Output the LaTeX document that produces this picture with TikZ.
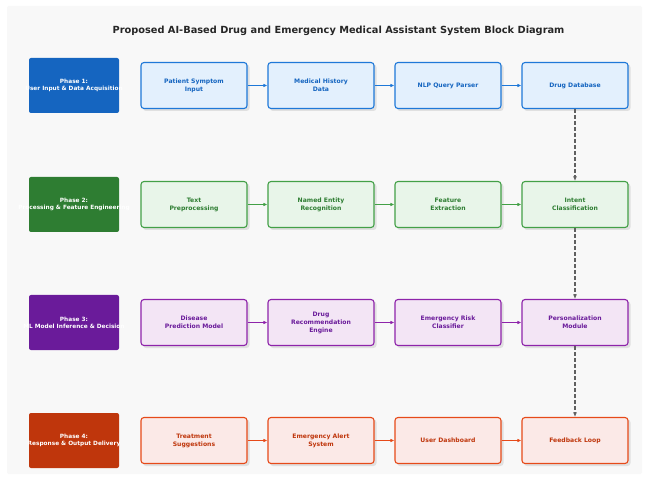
\documentclass[tikz,border=0pt]{standalone}
\usepackage{fontspec}
\setmainfont{DejaVu Sans}
\usetikzlibrary{arrows.meta,positioning}

% phase palettes: dark banner, soft fill, border, text
\definecolor{bgpanel}{HTML}{F8F8F8}
\definecolor{bluedark}{HTML}{1565C0}
\definecolor{bluefill}{HTML}{E3F0FD}
\definecolor{blueline}{HTML}{1E78D8}
\definecolor{greendark}{HTML}{2E7D32}
\definecolor{greenfill}{HTML}{E8F5E9}
\definecolor{greenline}{HTML}{43A047}
\definecolor{purpledark}{HTML}{6A1B9A}
\definecolor{purplefill}{HTML}{F3E5F5}
\definecolor{purpleline}{HTML}{8E24AA}
\definecolor{orangedark}{HTML}{BF360C}
\definecolor{orangefill}{HTML}{FBE9E7}
\definecolor{orangeline}{HTML}{E64A19}
\definecolor{linkgray}{HTML}{606060}

\tikzset{
  phasebox/.style={fill=#1, rounded corners=2pt, minimum width=90pt, minimum height=55pt,
    inner sep=0pt},
  phaselabel/.style={text=white, inner sep=0pt, font=\bfseries\fontsize{5.8}{7.2}\selectfont,
    align=center},
  stagebox/.style args={#1/#2/#3}{draw=#2, fill=#1, text=#3, line width=1.1pt,
    rounded corners=3pt, minimum width=106pt, minimum height=46pt, inner sep=0pt,
    font=\bfseries\fontsize{6.1}{8}\selectfont, align=center},
  stageshadow/.style={fill=black!12, rounded corners=3pt, draw=none},
  flow/.style={draw=#1, line width=0.9pt, -{Latex[length=4pt,width=3.5pt]}},
  handoff/.style={draw=linkgray, line width=1.3pt, dash pattern=on 4pt off 2pt,
    -{Latex[length=4.5pt,width=4pt]}},
}

\begin{document}
\begin{tikzpicture}[x=1pt,y=-1pt]
  \useasboundingbox (0,0) rectangle (645,478);
  \fill[white] (0,0) rectangle (645,478);
  \fill[bgpanel, rounded corners=2pt] (7,6) rectangle (642,474);

  \node[font=\bfseries\fontsize{9.8}{11}\selectfont, text=black!85] (title) at (338.5,31)
    {Proposed AI-Based Drug and Emergency Medical Assistant System Block Diagram};

  % phase banners (labels are wider than the banners and run past them)
  \node[phasebox=bluedark]   (p1) at (74,85.5) {};
  \node[phasebox=greendark]  (p2) at (74,204.5) {};
  \node[phasebox=purpledark] (p3) at (74,322.5) {};
  \node[phasebox=orangedark] (p4) at (74,440.5) {};
  \node[phaselabel] (p1l) at (p1) {Phase 1:\\User Input \& Data Acquisition};
  \node[phaselabel] (p2l) at (p2) {Phase 2:\\Processing \& Feature Engineering};
  \node[phaselabel] (p3l) at (p3) {Phase 3:\\ML Model Inference \& Decision};
  \node[phaselabel] (p4l) at (p4) {Phase 4:\\Response \& Output Delivery};

  % drop shadows behind the stage boxes
  \foreach \cx in {194,321,448,575}{
    \foreach \cy in {85.5,204.5,322.5,440.5}{
      \fill[stageshadow] (\cx-51,\cy-21) rectangle (\cx+55.5,\cy+25.5);
    }
  }

  % row 1
  \node[stagebox=bluefill/blueline/bluedark] (a1) at (194,85.5) {Patient Symptom\\Input};
  \node[stagebox=bluefill/blueline/bluedark] (a2) at (321,85.5) {Medical History\\Data};
  \node[stagebox=bluefill/blueline/bluedark] (a3) at (448,85.5) {NLP Query Parser};
  \node[stagebox=bluefill/blueline/bluedark] (a4) at (575,85.5) {Drug Database};
  % row 2
  \node[stagebox=greenfill/greenline/greendark] (b1) at (194,204.5) {Text\\Preprocessing};
  \node[stagebox=greenfill/greenline/greendark] (b2) at (321,204.5) {Named Entity\\Recognition};
  \node[stagebox=greenfill/greenline/greendark] (b3) at (448,204.5) {Feature\\Extraction};
  \node[stagebox=greenfill/greenline/greendark] (b4) at (575,204.5) {Intent\\Classification};
  % row 3
  \node[stagebox=purplefill/purpleline/purpledark] (c1) at (194,322.5) {Disease\\Prediction Model};
  \node[stagebox=purplefill/purpleline/purpledark] (c2) at (321,322.5) {Drug\\Recommendation\\Engine};
  \node[stagebox=purplefill/purpleline/purpledark] (c3) at (448,322.5) {Emergency Risk\\Classifier};
  \node[stagebox=purplefill/purpleline/purpledark] (c4) at (575,322.5) {Personalization\\Module};
  % row 4
  \node[stagebox=orangefill/orangeline/orangedark] (d1) at (194,440.5) {Treatment\\Suggestions};
  \node[stagebox=orangefill/orangeline/orangedark] (d2) at (321,440.5) {Emergency Alert\\System};
  \node[stagebox=orangefill/orangeline/orangedark] (d3) at (448,440.5) {User Dashboard};
  \node[stagebox=orangefill/orangeline/orangedark] (d4) at (575,440.5) {Feedback Loop};

  % flow within each phase
  \draw[flow=blueline] (a1) -- (a2);
  \draw[flow=blueline] (a2) -- (a3);
  \draw[flow=blueline] (a3) -- (a4);
  \draw[flow=greenline] (b1) -- (b2);
  \draw[flow=greenline] (b2) -- (b3);
  \draw[flow=greenline] (b3) -- (b4);
  \draw[flow=purpleline] (c1) -- (c2);
  \draw[flow=purpleline] (c2) -- (c3);
  \draw[flow=purpleline] (c3) -- (c4);
  \draw[flow=orangeline] (d1) -- (d2);
  \draw[flow=orangeline] (d2) -- (d3);
  \draw[flow=orangeline] (d3) -- (d4);

  % hand-off between phases
  \draw[handoff] (a4) -- (b4);
  \draw[handoff] (b4) -- (c4);
  \draw[handoff] (c4) -- (d4);
\end{tikzpicture}
\end{document}
